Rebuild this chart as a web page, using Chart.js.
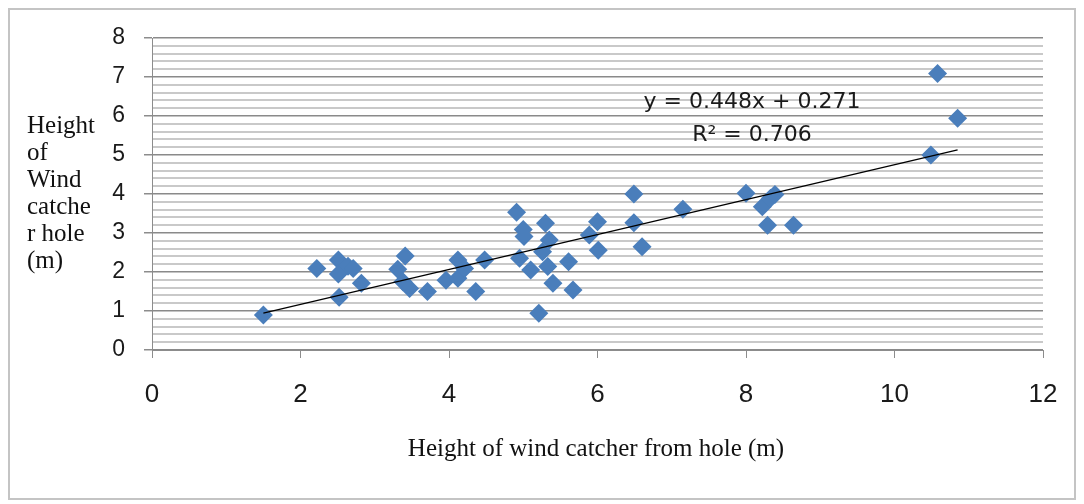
<!DOCTYPE html>
<html>
<head>
<meta charset="utf-8">
<title>Wind catcher heights</title>
<script src="https://cdn.jsdelivr.net/npm/chart.js@4.4.0/dist/chart.umd.min.js"></script>
<style>
  body { margin: 0; background: #fff; }
  #wrap { position: relative; width: 1084px; height: 504px; background: #fff; }
  #frame { position: absolute; left: 8px; top: 8px; width: 1068px; height: 492px; border: 2px solid #c4c4c4; box-sizing: border-box; pointer-events: none; }
  #ytitle { position: absolute; left: 27px; top: 111px; font: 25px/27px "Liberation Serif", serif; color: #111; }
  #xtitle { position: absolute; left: 596px; top: 433px; transform: translateX(-50%); white-space: nowrap; font: 25px/30px "Liberation Serif", serif; color: #111; }
  #eq { position: absolute; left: 752px; top: 84px; transform: translateX(-50%); white-space: nowrap; text-align: center; font: 22px/33px "DejaVu Sans", sans-serif; color: #1a1a1a; }
</style>
</head>
<body>
<div id="wrap">
  <canvas id="grafica" width="1084" height="504"></canvas>
  <div id="frame"></div>
  <div id="ytitle">Height<br>of<br>Wind<br>catche<br>r hole<br>(m)</div>
  <div id="xtitle">Height of wind catcher from hole (m)</div>
  <div id="eq">y = 0.448x + 0.271<br>R² = 0.706</div>
</div>
<script>
// === DATA ===
// x: height of wind catcher from hole (m)
const alturaDesdeHueco = [1.50, 2.22, 2.51, 2.51, 2.64, 2.71, 2.52, 2.82, 3.31, 3.41, 3.38, 3.47, 3.71, 3.96,
  4.12, 4.12, 4.21, 4.36, 4.48, 4.91, 5.00, 5.01, 4.95, 5.10, 5.30, 5.35, 5.26, 5.33, 5.40, 5.21,
  5.61, 5.67, 5.89, 6.00, 6.01, 6.49, 6.49, 6.60, 7.15, 8.00, 8.22, 8.29, 8.33, 8.39, 8.64,
  10.49, 10.58, 10.85];
// y: height of wind catcher hole (m)
const alturaHueco = [0.90, 2.09, 2.31, 1.95, 2.15, 2.09, 1.35, 1.71, 2.07, 2.41, 1.75, 1.58, 1.50, 1.79,
  2.31, 1.84, 2.09, 1.50, 2.31, 3.53, 3.09, 2.91, 2.35, 2.05, 3.25, 2.82, 2.52, 2.14, 1.71, 0.94,
  2.26, 1.54, 2.95, 3.29, 2.56, 4.00, 3.26, 2.65, 3.61, 4.02, 3.67, 3.20, 3.89, 3.99, 3.20,
  5.00, 7.09, 5.94];

// linear trendline as printed on the chart
const pendiente = 0.448;
const intercepto = 0.271;

const ticksX = [0, 2, 4, 6, 8, 10, 12];
const ticksY = [0, 1, 2, 3, 4, 5, 6, 7, 8];

const puntos = alturaDesdeHueco.map((x, i) => ({ x, y: alturaHueco[i] }));

// trendline spans the data range
const xMin = Math.min(...alturaDesdeHueco);
const xMax = Math.max(...alturaDesdeHueco);
const tendencia = [xMin, xMax].map(x => ({ x, y: pendiente * x + intercepto }));

const esEntero = v => Math.abs(v - Math.round(v)) < 1e-6;

const gris = '#8c8c8c';

new Chart(document.getElementById('grafica'), {
  type: 'scatter',
  data: {
    datasets: [
      {
        // first dataset is painted last, so the line sits over the diamonds
        label: 'Linear',
        data: tendencia,
        showLine: true,
        borderColor: '#000',
        borderWidth: 1.3,
        pointRadius: 0
      },
      {
        label: 'Wind catcher',
        data: puntos,
        pointStyle: 'rectRot',
        pointRadius: 9.5,
        backgroundColor: '#4a7ebb',
        borderColor: '#4a7ebb',
        borderWidth: 0
      }
    ]
  },
  options: {
    responsive: false,
    animation: false,
    devicePixelRatio: 1,
    layout: { padding: { left: 0, right: 41, top: 38, bottom: 0 } },
    plugins: { legend: { display: false }, tooltip: { enabled: false }, title: { display: false } },
    scales: {
      x: {
        type: 'linear',
        position: 'bottom',
        min: ticksX[0],
        max: ticksX[ticksX.length - 1],
        afterFit: s => { s.height = 154; },
        ticks: {
          stepSize: 2,
          padding: 21,
          color: '#1a1a1a',
          font: { family: 'Liberation Sans', size: 26 }
        },
        grid: { drawOnChartArea: false, drawTicks: true, tickLength: 8, color: gris },
        border: { color: gris, width: 1 }
      },
      y: {
        min: ticksY[0],
        max: ticksY[ticksY.length - 1],
        afterFit: s => { s.width = 152; },
        ticks: {
          stepSize: 0.2,
          autoSkip: false,
          padding: 19,
          color: '#1a1a1a',
          font: { family: 'Liberation Sans', size: 23 },
          callback: v => esEntero(v) ? Math.round(v) : ''
        },
        grid: {
          color: c => (c.tick && esEntero(c.tick.value)) ? '#8a8a8a' : '#c9c9c9',
          lineWidth: c => (c.tick && esEntero(c.tick.value)) ? 1.5 : 2,
          tickColor: c => (c.tick && esEntero(c.tick.value)) ? gris : 'rgba(0,0,0,0)',
          tickLength: 8
        },
        border: { color: gris, width: 1 }
      }
    }
  }
});
</script>
</body>
</html>
